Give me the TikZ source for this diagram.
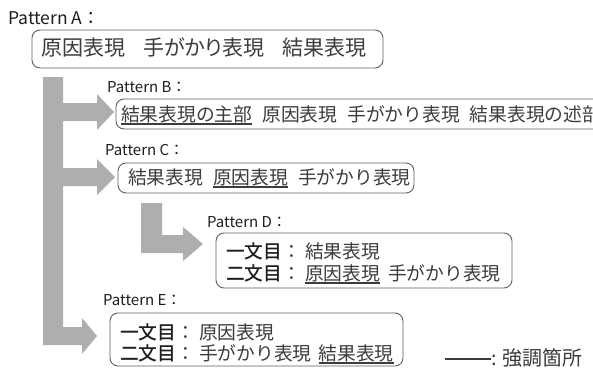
\documentclass[tikz,border=0pt]{standalone}
\usepackage{fontspec}
\setmainfont{Noto Sans CJK JP}[BoldFont={Noto Sans CJK JP Bold}]
\newfontfamily\jpp{Noto Sans CJK JP}[RawFeature=+palt]
\newfontfamily\jpm{Noto Sans CJK JP Medium}
\definecolor{txt}{HTML}{3C3C3C}
\definecolor{lbl}{HTML}{1E1E1E}
\definecolor{frame}{HTML}{5F5F5F}
\definecolor{arr}{HTML}{AEAEAE}
\newcommand\ulx[1]{\setbox0=\hbox{#1}\rlap{\textcolor{txt}{\rule[-3.8pt]{\wd0}{1.4pt}}}\box0}
\newcommand\hd[1]{{\jpm\color{lbl}#1}}
\begin{document}
\begin{tikzpicture}[x=1pt,y=-1pt,
  lab/.style={anchor=west, inner sep=0pt, text=lbl, font=\fontsize{15}{18}\selectfont},
  box/.style={draw=frame, line width=0.9pt, rounded corners=8pt},
  txtn/.style={anchor=base west, inner sep=0pt, text=txt, font=\fontsize{18.75}{22}\selectfont},
  arrowshape/.style={fill=arr, draw=none}]
\useasboundingbox (0,0) rectangle (593,369);
\clip (0,0) rectangle (593,369);
\fill[white] (0,0) rectangle (593,369);

% gray arrows
\path[arrowshape] (43,77) -- (63,77) -- (63,103) -- (97,103) -- (97,94) -- (114,112) -- (97,130) -- (97,121)
  -- (63,121) -- (63,168) -- (97,168) -- (97,159) -- (115,177) -- (97,195) -- (97,186) -- (63,186)
  -- (63,327) -- (82,327) -- (82,318) -- (97,336) -- (82,354) -- (82,345) -- (43,345) -- cycle;
\path[arrowshape] (141,203) -- (162,203) -- (162,235) -- (183,235) -- (183,227) -- (203,244)
  -- (183,261) -- (183,253) -- (141,253) -- cycle;

% Pattern A
\node[lab, font=\fontsize{17.5}{20}\selectfont] (la) at (8,18) {Pattern A：};
\draw[box] (32,30) rectangle (383,68);
\node[txtn, font=\fontsize{21}{24}\selectfont\jpp] (ta) at (41,56) {原因表現\hspace{18pt}手がかり表現\hspace{18pt}結果表現};

% Pattern B
\node[lab] (lb) at (107,87) {Pattern B：};
\draw[box] (116,99) rectangle (620,129);
\node[txtn] (tb) at (121,121) {\ulx{結果表現の主部}\hspace{10pt}原因表現\hspace{10pt}手がかり表現\hspace{10pt}結果表現の述部};

% Pattern C
\node[lab] (lc) at (105,150) {Pattern C：};
\draw[box] (118,163) rectangle (414,193);
\node[txtn] (tc) at (128,184) {結果表現\hspace{10pt}\ulx{原因表現}\hspace{10pt}手がかり表現};

% Pattern D
\node[lab] (ld) at (207,222) {Pattern D：};
\draw[box] (216,233) rectangle (512,288);
\node[txtn] (td1) at (226,258) {\hd{一文目}：\hspace{4pt}結果表現};
\node[txtn] (td2) at (226,280) {\hd{二文目}：\hspace{4pt}\ulx{原因表現}\hspace{8pt}手がかり表現};

% Pattern E
\node[lab] (le) at (103,300) {Pattern E：};
\draw[box] (110,313) rectangle (403,366);
\node[txtn] (te1) at (120,339) {\hd{一文目}：\hspace{4pt}原因表現};
\node[txtn] (te2) at (120,360) {\hd{二文目}：\hspace{4pt}手がかり表現\hspace{7pt}\ulx{結果表現}};

% legend
\coordinate (lg1) at (445,359);
\coordinate (lg2) at (491,359);
\draw[txt, line width=1.6pt] (lg1) -- (lg2);
\node[anchor=base west, inner sep=0pt, text=txt, font=\fontsize{20}{24}\selectfont] (lgt) at (491,365) {:\hspace{6pt}強調箇所};
\end{tikzpicture}
\end{document}
